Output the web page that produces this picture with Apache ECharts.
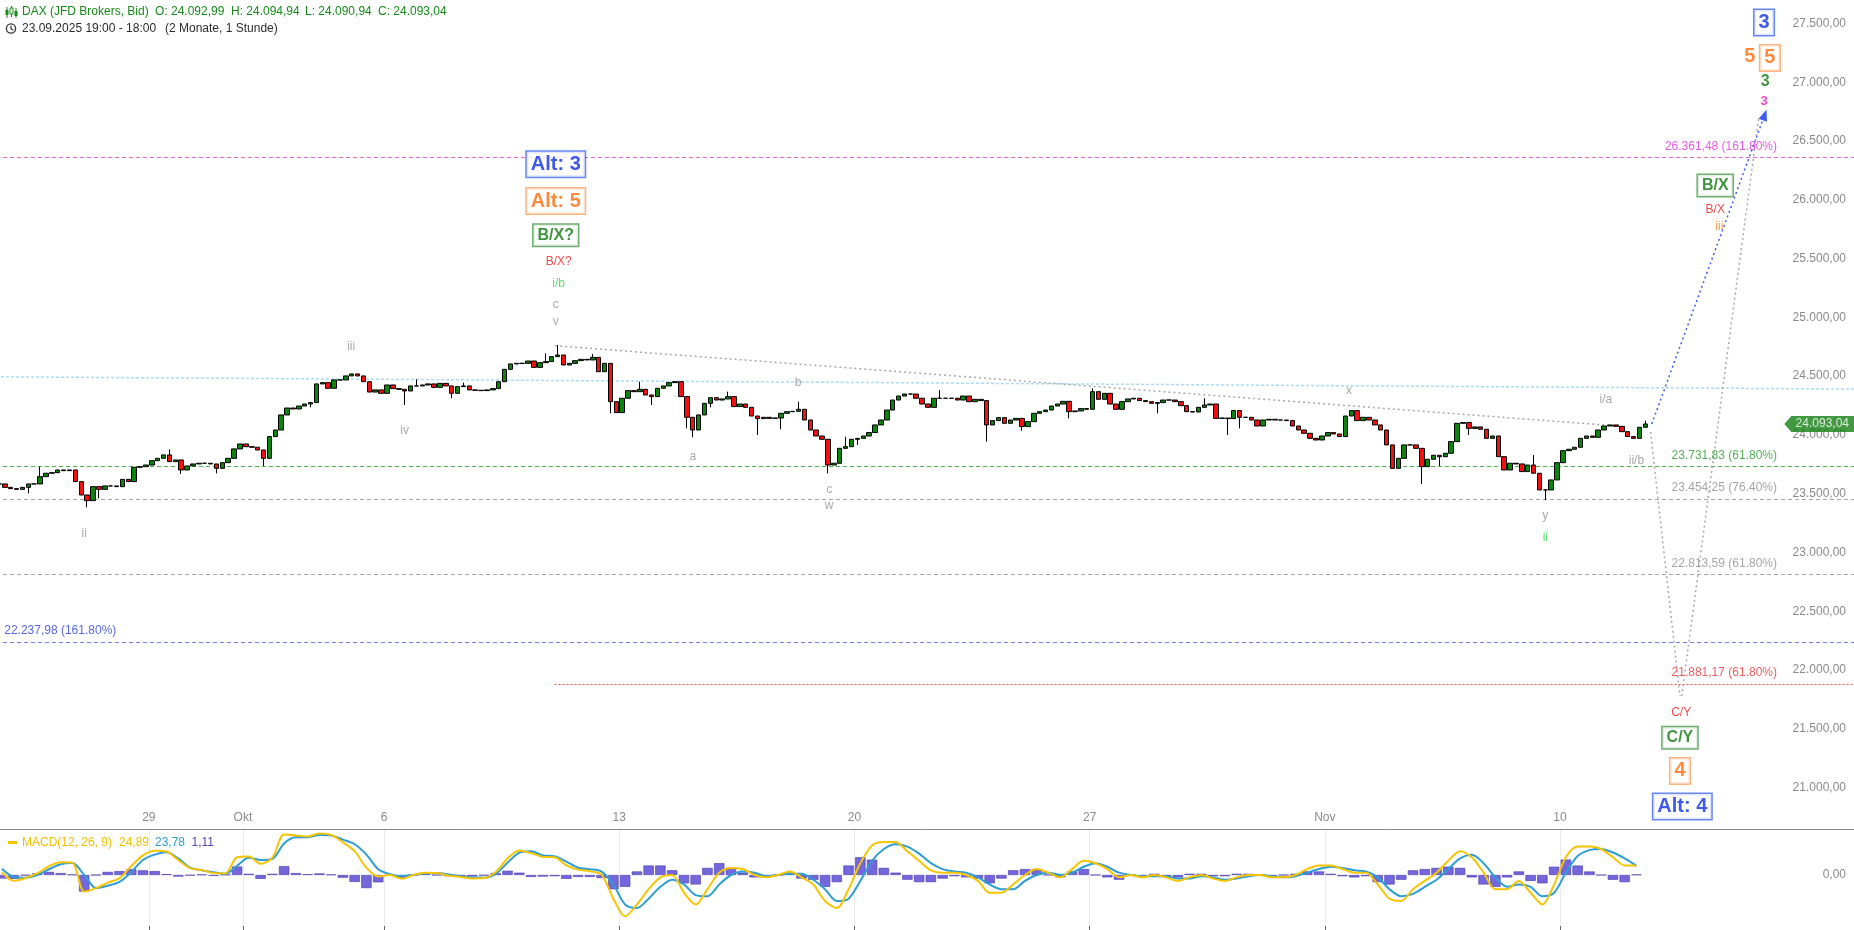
<!DOCTYPE html>
<html><head><meta charset="utf-8">
<script src="https://cdn.jsdelivr.net/npm/echarts@6/dist/echarts.min.js"></script>
<style>html,body{margin:0;padding:0;background:#fff;overflow:hidden}#c{width:1854px;height:930px}</style>
</head><body><div id="c"></div>
<script>
// ---------- DATA (3-hour slots, 8 per trading day, first slot = 23.09. 18:00) ----------
const closes = [
23583,23554,23543,23537,23554,23583,23583,23645,23674,23679,
23702,23696,23702,23603,23489,23441,23560,23537,23566,23566,
23560,23622,23603,23725,23730,23744,23781,23801,23830,23773,
23787,23702,23736,23753,23759,23759,23753,23716,23764,23801,
23881,23923,23900,23895,23872,23801,23986,24042,24170,24229,
24221,24246,24263,24275,24434,24445,24397,24468,24468,24502,
24519,24502,24453,24365,24383,24354,24425,24394,24388,24374,
24417,24417,24425,24434,24405,24439,24417,24354,24411,24417,
24383,24380,24377,24383,24394,24453,24558,24604,24609,24609,
24629,24575,24615,24624,24666,24680,24595,24609,24632,24643,
24638,24660,24538,24609,24283,24190,24312,24377,24368,24388,
24340,24326,24397,24417,24445,24453,24326,24150,24042,24170,
24269,24317,24297,24306,24326,24241,24263,24235,24161,24139,
24150,24141,24144,24184,24198,24201,24218,24127,24042,23991,
23963,23744,23759,23886,23900,23963,23971,23991,24020,24085,
24127,24212,24297,24331,24348,24348,24312,24263,24235,24312,
24312,24312,24312,24297,24331,24283,24303,24292,24085,24122,
24147,24099,24127,24141,24071,24113,24184,24198,24212,24246,
24263,24286,24198,24204,24224,24218,24368,24303,24354,24263,
24218,24283,24306,24312,24292,24283,24269,24275,24297,24297,
24283,24249,24198,24195,24235,24255,24263,24141,24144,24139,
24207,24150,24150,24127,24076,24127,24133,24127,24127,24122,
24076,24042,24014,23971,23957,23991,24020,24008,23986,24161,
24207,24122,24150,24127,24085,24042,23915,23716,23801,23915,
23915,23886,23730,23793,23827,23815,23844,23943,24099,24105,
24056,24068,24048,23971,23991,23815,23702,23759,23753,23688,
23744,23674,23532,23532,23617,23764,23866,23878,23895,23971,
23991,23980,24042,24076,24085,24073,24028,23986,23971,24065,
24093.04];
const wickHighs = [[7,23730],[29,23877],[71,24473],[79,24445],[93,24694],[95,24765],[101,24689],[109,24453],[124,24368],[136,24283],[144,23985],[160,24382],[186,24397],[205,24312],[261,23829],[280,24121]];
const wickLows = [[5,23503],[15,23384],[17,23461],[31,23668],[37,23673],[45,23736],[53,24235],[69,24255],[77,24312],[104,24184],[111,24255],[117,24056],[118,23980],[121,24235],[129,24000],[133,24048],[141,23673],[146,23915],[168,23943],[174,24036],[182,24141],[197,24184],[209,24000],[211,24056],[242,23583],[245,23736],[250,24000],[263,23446],[266,23801]];

// MACD (6-hour slots, 4 per trading day)
const macdLine = [
7,-15,-8,4,23,33,32,-43,-34,-20,
-8,23,51,63,61,39,18,13,5,4,
46,48,29,45,105,103,100,108,104,85,
62,19,-4,0,-10,0,6,5,-2,-5,
-9,-8,8,43,64,57,47,46,25,14,
10,1,-61.5,-107.6,-76.9,-36.9,-6.1,0,-46.1,-76.9,
-36.9,6.1,18.5,15.4,0,-6.1,0,9.2,-6.1,-24.6,
-67.6,-86.1,-36.9,30.7,76.9,86.1,86.1,61.6,37,12.3,
6.1,6.1,0,-15.4,-46.1,-46.1,-24.6,0,15.4,6.1,
-6.1,15.4,37,30.7,15.4,-6.1,0,-6.1,0,-6.1,
-15.4,-6.1,0,-9.2,-15.4,-6.1,0,0,-6.1,-6.1,
0,15.4,24.6,24.6,15.4,6.1,6.1,-24.6,-61.5,-67.6,
-36.9,-15.4,6.1,37,61.6,46.2,6.1,-36.9,-36.9,-15.4,
-46.1,-76.9,-24.6,46.2,73.8,73.8,67.6,46.2,24.6,24.89];
const signalLine = [
16,-5,-7,0,15,28,31,0,-34,-28,
-18,8,39,53,59,43,19,12,7,3,
24,45,39,42,82,98,98,104,103,92,
80,53,15,2,-3,0,4,5,1,-3,
-6,-7,3,32,58,62,51,49,35,19,
15,9,-24.6,-76.9,-86.1,-61.5,-30.7,-12.3,-24.6,-52.3,
-55.3,-24.6,0,9.2,6.1,-3.1,0,3.1,3.1,-12.3,
-36.9,-67.6,-61.5,-15.4,37,67.6,80,73.8,55.5,30.7,
15.4,9.2,6.1,-6.1,-24.6,-36.9,-36.9,-15.4,0,6.1,
0,6.1,21.5,30.7,21.5,6.1,0,-3.1,-3.1,-3.1,
-9.2,-9.2,-3.1,-6.1,-12.3,-9.2,-3.1,0,-3.1,-6.1,
-3.1,6.1,15.4,21.5,18.5,12.3,9.2,-6.1,-36.9,-55.3,
-49,-30.7,-12.3,15.4,43.1,52.4,30.7,-6.1,-30.7,-24.6,
-30.7,-55.3,-46.1,6.1,49.3,64.7,67.6,58.5,43.1,23.78];

// trading-day index (0 = Mo 29.09.) and labels of the time axis
const tickDays = [0,2,5,10,15,20,25,30];
const tickLabels = ['29','Okt','6','13','20','27','Nov','10'];

// Fibonacci levels
const fibLevels = [
  {value:26361.48, pct:'161.80%', kind:'magenta', from:-0.5},
  {value:23731.83, pct:'61.80%', kind:'green', from:-0.5},
  {value:23454.25, pct:'76.40%', kind:'gray', from:-0.5},
  {value:22813.59, pct:'61.80%', kind:'gray', from:-0.5},
  {value:22237.98, pct:'161.80%', kind:'blue', from:-0.5, labelLeft:true},
  {value:21881.17, pct:'61.80%', kind:'red', from:94.5}
];
// trend / projection lines [slot, price] -> [slot, price]
const trendLines = [
  {a:[-0.5,24495], b:[315.5,24390], kind:'lightblue'},
  {a:[94.6,24759], b:[273.5,24083], kind:'grayDot'},
  {a:[281.1,24093], b:[300.3,26722], kind:'blueArrow'},
  {a:[280.9,24025], b:[285.9,21778], kind:'grayDot'},
  {a:[286.2,21778], b:[299.3,26697], kind:'grayDot'}
];
// wave labels [slot, price, text, kind]
const waveLabels = [
  [94.7,26302,'Alt: 3','blueBox'],[94.7,25990,'Alt: 5','orangeBox'],[94.7,25699,'B/X?','greenBox'],
  [95.2,25477,'B/X?','red'],[95.2,25286,'i/b','lime'],[94.7,25105,'c','gray'],[94.7,24964,'v','gray'],
  [59.9,24753,'iii','gray'],[69.0,24038,'iv','gray'],[14.5,23163,'ii','gray'],
  [118.0,23817,'a','gray'],[135.9,24441,'b','gray'],[141.2,23536,'c','gray'],[141.2,23394,'w','gray'],
  [229.6,24380,'x','gray'],[263.0,23314,'y','gray'],[263.0,23123,'ii','lime'],
  [273.3,24300,'i/a','gray'],[278.5,23777,'ii/b','gray'],
  [300.2,27509,'3','blueBox'],[297.8,27217,'5','orangeBig'],[301.2,27208,'5','orangeBox'],
  [300.4,27006,'3','green3'],[300.2,26835,'3','magenta3'],
  [291.9,26122,'B/X','greenBox'],[291.9,25920,'B/X','red'],[292.6,25769,'iii','orangeSmall'],
  [286.1,21634,'C/Y','red'],[285.9,21423,'C/Y','greenBox'],[285.9,21141,'4','orangeBox'],[286.3,20839,'Alt: 4','blueBox']
];
const lastPrice = 24093.04;

// ---------- LAYOUT / STYLE ----------
const FONT = 'Liberation Sans, Arial, sans-serif';
const N = 316, N2 = 158;
function de(v){const s=(+v).toFixed(2).split('.');return s[0].replace(/\B(?=(\d{3})+(?!\d))/g,'.')+','+s[1];}

const lineStyles = {
  magenta:{color:'#e35fdc',type:[4,3],width:1},
  green:{color:'#4fb34f',type:[4,3],width:1},
  gray:{color:'#a5a5a5',type:[4,3],width:1},
  blue:{color:'#6b83ea',type:[4,3],width:1},
  red:{color:'#ea4a4a',type:[2,2],width:1},
  lightblue:{color:'#a9dcf6',type:[3,2],width:1.5},
  grayDot:{color:'#a8a8a8',type:[2,3],width:1.5},
  blueArrow:{color:'#3d5cf0',type:[2,3],width:1.5}
};
const fibText = {magenta:'#e22fdc',green:'#2b9a2b',gray:'#8e8e8e',blue:'#2a3fdc',red:'#e83535'};
const labelStyles = {
  gray:{color:'#929292',fontSize:12},
  red:{color:'#ee1c1c',fontSize:12},
  lime:{color:'#2ed850',fontSize:12},
  orangeSmall:{color:'#ff8424',fontSize:12},
  blueBox:{color:'#0d2ee8',fontSize:20,fontWeight:'bold',borderColor:'#4468f2',borderWidth:1.5,padding:[3,4,2,4],backgroundColor:'#fff',lineHeight:20},
  orangeBox:{color:'#ff6c0a',fontSize:20,fontWeight:'bold',borderColor:'#ffa05e',borderWidth:1.5,padding:[3,4,2,4],backgroundColor:'#fff',lineHeight:20},
  orangeBig:{color:'#ff6c0a',fontSize:20,fontWeight:'bold'},
  greenBox:{color:'#0f7a0f',fontSize:16,fontWeight:'bold',borderColor:'#4c994c',borderWidth:1.5,padding:[3,4,2,4],backgroundColor:'#fff',lineHeight:16},
  green3:{color:'#0f7a0f',fontSize:16,fontWeight:'bold'},
  magenta3:{color:'#ee14c6',fontSize:13,fontWeight:'bold'}
};

// ---------- BUILD ----------
const catsP = Array.from({length:N},(_,i)=>'p'+i);
const catsM = Array.from({length:N2},(_,i)=>'m'+i);
const hiMap = new Map(wickHighs), loMap = new Map(wickLows);
const candles = closes.map((c,i)=>{
  const o = i ? closes[i-1] : closes[0];
  let h = Math.max(o,c), l = Math.min(o,c);
  if (hiMap.has(i)) h = Math.max(h, hiMap.get(i));
  if (loMap.has(i)) l = Math.min(l, loMap.get(i));
  return [o,c,l,h];
});
const hist = macdLine.map((m,i)=>+(m - signalLine[i]).toFixed(2));
const dayMap = new Map(tickDays.map((k,n)=>[(k+4)*4-3, tickLabels[n]]));
const isDay = (idx)=>dayMap.has(idx);

const annot = [];
waveLabels.forEach(([x,y,t,k])=>{
  annot.push({value:[x,y], label:Object.assign({show:true,position:'inside',formatter:t,fontFamily:FONT}, labelStyles[k])});
});
fibLevels.forEach(f=>{
  const txt = de(f.value)+' ('+f.pct+')';
  annot.push({value:[f.labelLeft?0.9:302.4, f.value], label:{show:true, position:f.labelLeft?'right':'left', distance:0, offset:[0,-11], formatter:txt, color:fibText[f.kind], fontSize:12, fontFamily:FONT}});
});
const mlData = [];
fibLevels.forEach(f=>{
  mlData.push([{coord:[f.from,f.value], lineStyle:lineStyles[f.kind]},{coord:[315.5,f.value], lineStyle:lineStyles[f.kind]}]);
});
trendLines.forEach(t=>{
  const end = {coord:t.b, lineStyle:lineStyles[t.kind]};
  if (t.kind==='blueArrow'){ end.symbol='triangle'; end.symbolSize=[9,11]; }
  mlData.push([{coord:t.a, lineStyle:lineStyles[t.kind]}, end]);
});

const chart = echarts.init(document.getElementById('c'), null, {renderer:'canvas'});
chart.setOption({
  animation:false,
  backgroundColor:'#fff',
  textStyle:{fontFamily:FONT},
  grid:[
    {left:-4, right:0, top:-35.2, height:881.5, outerBoundsMode:'none', containLabel:false},
    {left:-4, right:0, top:829, height:101, outerBoundsMode:'none', containLabel:false}
  ],
  xAxis:[
    {type:'category', gridIndex:0, data:catsP, show:false, boundaryGap:true},
    {type:'value', gridIndex:0, min:-0.5, max:N-0.5, show:false},
    {type:'category', gridIndex:1, data:catsM, position:'top', boundaryGap:true,
      axisLine:{show:true, onZero:false, lineStyle:{color:'#8a8a8a', width:1}},
      axisTick:{show:false},
      axisLabel:{show:true, interval:isDay, margin:5, formatter:(v,i)=>'{t|'+(dayMap.get(i)||'')+'}',
        rich:{t:{color:'#8a8a8a', fontSize:12, fontFamily:FONT, padding:[0,11.76,0,0]}}},
      splitLine:{show:true, interval:isDay, lineStyle:{color:'#e9e9e9', width:1}}},
    {type:'category', gridIndex:1, data:catsM, position:'bottom', boundaryGap:true,
      axisLine:{show:false, onZero:false}, axisLabel:{show:false}, splitLine:{show:false},
      axisTick:{show:true, inside:true, length:4, interval:isDay, lineStyle:{color:'#666'}}}
  ],
  yAxis:[
    {type:'value', gridIndex:0, position:'right', min:20500, max:28000, interval:500,
      axisLine:{show:false}, splitLine:{show:false},
      axisTick:{show:true, inside:true, length:4, lineStyle:{color:'#777'}},
      axisLabel:{show:true, inside:true, margin:8, color:'#8a8a8a', fontSize:12, fontFamily:FONT,
        showMinLabel:false, showMaxLabel:false, formatter:v=>de(v)}},
    {type:'value', gridIndex:1, position:'right', min:-143, max:119.6,
      axisLine:{show:false}, splitLine:{show:false}, axisTick:{show:false},
      axisLabel:{show:true, inside:true, margin:8, color:'#8a8a8a', fontSize:12, fontFamily:FONT,
        showMinLabel:false, showMaxLabel:false, formatter:v=>(Math.abs(v)<1e-9?'0,00':'')}}
  ],
  series:[
    {type:'scatter', name:'annot', xAxisIndex:1, yAxisIndex:0, symbolSize:0, silent:true, z:4, data:annot,
      markLine:{silent:true, symbol:['none','none'], label:{show:false}, emphasis:{disabled:true}, z:2, data:mlData}},
    {type:'candlestick', xAxisIndex:0, yAxisIndex:0, data:candles, barWidth:5, silent:true, z:3,
      itemStyle:{color:'#0c850c', color0:'#f21010', borderColor:'#000', borderColor0:'#000', borderWidth:1}},
    {type:'scatter', name:'tag', xAxisIndex:1, yAxisIndex:0, silent:true, z:6,
      symbol:'path://M0,8 L7,0 L70,0 L70,16 L7,16 Z', symbolSize:[70,16], symbolKeepAspect:false,
      itemStyle:{color:'#137f13'},
      data:[{value:[309.6,lastPrice], label:{show:true, position:'inside', offset:[3,0], formatter:de(lastPrice), color:'#fff', fontSize:12, fontFamily:FONT}}]},
    {type:'bar', xAxisIndex:2, yAxisIndex:1, data:hist, barWidth:'88%', silent:true,
      itemStyle:{color:'#7467dc', borderColor:'#4536ad', borderWidth:0.6}},
    {type:'line', xAxisIndex:2, yAxisIndex:1, data:signalLine, showSymbol:false, smooth:0.3, silent:true,
      lineStyle:{color:'#2d9dd3', width:2}},
    {type:'line', xAxisIndex:2, yAxisIndex:1, data:macdLine, showSymbol:false, smooth:0.3, silent:true,
      lineStyle:{color:'#f6c400', width:2}}
  ],
  graphic:[
    // header icon
    {type:'line', shape:{x1:7,y1:7,x2:7,y2:18}, style:{stroke:'#17891a',lineWidth:1}},
    {type:'rect', shape:{x:5.5,y:10,width:3,height:5}, style:{fill:'#17891a'}},
    {type:'line', shape:{x1:11.5,y1:6,x2:11.5,y2:17}, style:{stroke:'#17891a',lineWidth:1}},
    {type:'rect', shape:{x:10,y:8,width:3,height:6}, style:{fill:'#fff',stroke:'#17891a',lineWidth:1}},
    {type:'line', shape:{x1:16,y1:8,x2:16,y2:18}, style:{stroke:'#17891a',lineWidth:1}},
    {type:'rect', shape:{x:14.5,y:11,width:3,height:5}, style:{fill:'#17891a'}},
    {type:'text', x:22, y:12, style:{text:'DAX (JFD Brokers, Bid)', fill:'#17891a', font:'12px '+FONT, textVerticalAlign:'middle'}},
    {type:'text', x:155, y:12, style:{text:'O: 24.092,99', fill:'#17891a', font:'12px '+FONT, textVerticalAlign:'middle'}},
    {type:'text', x:231, y:12, style:{text:'H: 24.094,94', fill:'#17891a', font:'12px '+FONT, textVerticalAlign:'middle'}},
    {type:'text', x:305, y:12, style:{text:'L: 24.090,94', fill:'#17891a', font:'12px '+FONT, textVerticalAlign:'middle'}},
    {type:'text', x:378, y:12, style:{text:'C: 24.093,04', fill:'#17891a', font:'12px '+FONT, textVerticalAlign:'middle'}},
    // clock icon
    {type:'circle', shape:{cx:11,cy:28.5,r:4.6}, style:{fill:'none',stroke:'#333',lineWidth:1.3}},
    {type:'polyline', shape:{points:[[11,25.8],[11,28.7],[13.2,30.2]]}, style:{fill:'none',stroke:'#333',lineWidth:1.2}},
    {type:'text', x:22, y:28.5, style:{text:'23.09.2025 19:00 - 18:00', fill:'#2b2b2b', font:'12px '+FONT, textVerticalAlign:'middle'}},
    {type:'text', x:165, y:28.5, style:{text:'(2 Monate, 1 Stunde)', fill:'#2b2b2b', font:'12px '+FONT, textVerticalAlign:'middle'}},
    // MACD legend
    {type:'rect', shape:{x:8,y:841,width:9,height:3}, style:{fill:'#f6c400'}},
    {type:'text', x:22, y:842.5, style:{text:'MACD(12, 26, 9)', fill:'#f2bf00', font:'12px '+FONT, textVerticalAlign:'middle'}},
    {type:'text', x:119, y:842.5, style:{text:de(macdLine[macdLine.length-1]), fill:'#f2bf00', font:'12px '+FONT, textVerticalAlign:'middle'}},
    {type:'text', x:155, y:842.5, style:{text:de(signalLine[signalLine.length-1]), fill:'#2d9dd3', font:'12px '+FONT, textVerticalAlign:'middle'}},
    {type:'text', x:191.5, y:842.5, style:{text:de(hist[hist.length-1]), fill:'#5546b0', font:'12px '+FONT, textVerticalAlign:'middle'}}
  ]
});
</script></body></html>
